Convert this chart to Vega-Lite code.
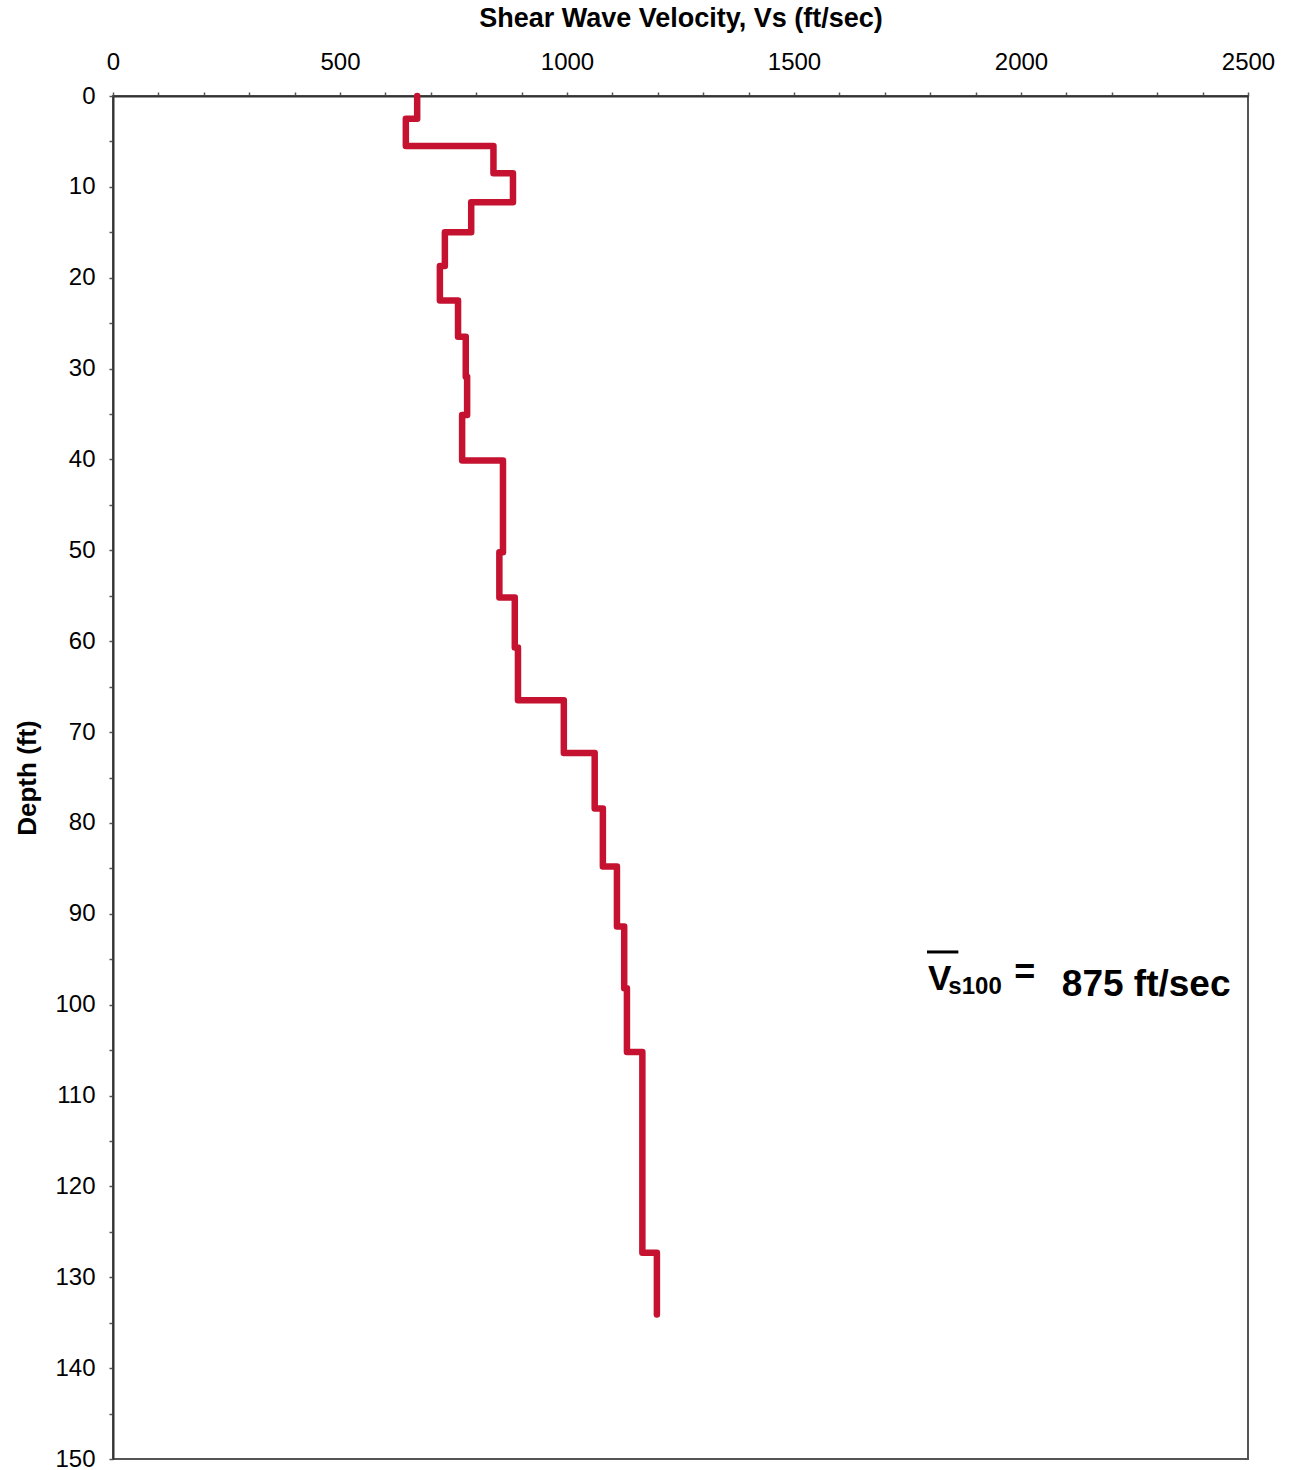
{
  "$schema": "https://vega.github.io/schema/vega-lite/v6.json",
  "width": 1135,
  "height": 1363,
  "autosize": "none",
  "padding": {"left": 113, "top": 96, "right": 43, "bottom": 11},
  "background": "white",
  "config": {
    "view": {"stroke": "#555555", "strokeWidth": 2},
    "font": "Liberation Sans",
    "axis": {"grid": false, "domainColor": "#333333", "domainWidth": 2, "tickColor": "#555555", "tickWidth": 1.5, "labelColor": "#000000", "titleColor": "#000000", "labelFont": "Liberation Sans", "titleFont": "Liberation Sans"}
  },
  "datasets": {
    "profile": [
      {"i": 1, "depth": 0, "vs": 670},
      {"i": 2, "depth": 2.5, "vs": 670},
      {"i": 3, "depth": 2.5, "vs": 645},
      {"i": 4, "depth": 5.5, "vs": 645},
      {"i": 5, "depth": 5.5, "vs": 838},
      {"i": 6, "depth": 8.5, "vs": 838},
      {"i": 7, "depth": 8.5, "vs": 881},
      {"i": 8, "depth": 11.7, "vs": 881},
      {"i": 9, "depth": 11.7, "vs": 789},
      {"i": 10, "depth": 15, "vs": 789},
      {"i": 11, "depth": 15, "vs": 731},
      {"i": 12, "depth": 18.7, "vs": 731},
      {"i": 13, "depth": 18.7, "vs": 720},
      {"i": 14, "depth": 22.5, "vs": 720},
      {"i": 15, "depth": 22.5, "vs": 760},
      {"i": 16, "depth": 26.5, "vs": 760},
      {"i": 17, "depth": 26.5, "vs": 777},
      {"i": 18, "depth": 30.9, "vs": 777},
      {"i": 19, "depth": 30.9, "vs": 780},
      {"i": 20, "depth": 35.1, "vs": 780},
      {"i": 21, "depth": 35.1, "vs": 769},
      {"i": 22, "depth": 40.1, "vs": 769},
      {"i": 23, "depth": 40.1, "vs": 859},
      {"i": 24, "depth": 50.2, "vs": 859},
      {"i": 25, "depth": 50.2, "vs": 851},
      {"i": 26, "depth": 55.2, "vs": 851},
      {"i": 27, "depth": 55.2, "vs": 885},
      {"i": 28, "depth": 60.7, "vs": 885},
      {"i": 29, "depth": 60.7, "vs": 892},
      {"i": 30, "depth": 66.5, "vs": 892},
      {"i": 31, "depth": 66.5, "vs": 993},
      {"i": 32, "depth": 72.3, "vs": 993},
      {"i": 33, "depth": 72.3, "vs": 1061},
      {"i": 34, "depth": 78.4, "vs": 1061},
      {"i": 35, "depth": 78.4, "vs": 1079},
      {"i": 36, "depth": 84.8, "vs": 1079},
      {"i": 37, "depth": 84.8, "vs": 1110},
      {"i": 38, "depth": 91.4, "vs": 1110},
      {"i": 39, "depth": 91.4, "vs": 1126},
      {"i": 40, "depth": 98.2, "vs": 1126},
      {"i": 41, "depth": 98.2, "vs": 1132},
      {"i": 42, "depth": 105.2, "vs": 1132},
      {"i": 43, "depth": 105.2, "vs": 1166},
      {"i": 44, "depth": 127.3, "vs": 1166},
      {"i": 45, "depth": 127.3, "vs": 1198},
      {"i": 46, "depth": 134.1, "vs": 1198}
    ],
    "label": [
      {"part": "V", "vs": 1795, "depth": 98.4},
      {"part": "s100", "vs": 1840, "depth": 98.8},
      {"part": "=", "vs": 1985, "depth": 97.7},
      {"part": "875 ft/sec", "vs": 2090, "depth": 99.0}
    ],
    "bar": [
      {"vs": 1793, "vs2": 1862, "depth": 94.2}
    ]
  },
  "layer": [
    {
      "data": {"name": "profile"},
      "mark": {"type": "line", "color": "#c41230", "strokeWidth": 6.5, "strokeCap": "round", "strokeJoin": "round"},
      "encoding": {
        "x": {
          "field": "vs", "type": "quantitative",
          "scale": {"domain": [0, 2500], "nice": false, "zero": false},
          "axis": {
            "orient": "top",
            "title": "Shear Wave Velocity, Vs (ft/sec)",
            "titleFontSize": 27, "titleFontWeight": "bold", "titlePadding": 18,
            "labelFontSize": 24, "labelFontWeight": "normal", "labelPadding": 18,
            "format": "d",
            "values": [0,100,200,300,400,500,600,700,800,900,1000,1100,1200,1300,1400,1500,1600,1700,1800,1900,2000,2100,2200,2300,2400,2500],
            "labelExpr": "datum.value % 500 == 0 ? datum.label : ''",
            "tickSize": 4, "labelFlush": false, "labelOverlap": false
          }
        },
        "y": {
          "field": "depth", "type": "quantitative",
          "scale": {"domain": [0, 150], "nice": false, "zero": false, "reverse": true},
          "axis": {
            "title": "Depth (ft)",
            "titleFontSize": 26, "titleFontWeight": "bold", "titlePadding": 14,
            "labelFontSize": 24, "labelFontWeight": "normal", "labelPadding": 14,
            "format": "d",
            "values": [0,5,10,15,20,25,30,35,40,45,50,55,60,65,70,75,80,85,90,95,100,105,110,115,120,125,130,135,140,145,150],
            "labelExpr": "datum.value % 10 == 0 ? datum.label : ''",
            "tickSize": 4, "labelFlush": false, "labelOverlap": false
          }
        },
        "order": {"field": "i", "type": "quantitative"}
      }
    },
    {
      "data": {"name": "bar"},
      "mark": {"type": "rule", "color": "#000000", "strokeWidth": 3},
      "encoding": {
        "x": {"field": "vs", "type": "quantitative"},
        "x2": {"field": "vs2"},
        "y": {"field": "depth", "type": "quantitative"}
      }
    },
    {
      "data": {"name": "label"},
      "transform": [{"filter": "datum.part == 'V'"}],
      "mark": {"type": "text", "align": "left", "baseline": "alphabetic", "fontSize": 35, "fontWeight": "bold", "font": "Liberation Sans", "color": "#000000"},
      "encoding": {
        "x": {"field": "vs", "type": "quantitative"},
        "y": {"field": "depth", "type": "quantitative"},
        "text": {"field": "part"}
      }
    },
    {
      "data": {"name": "label"},
      "transform": [{"filter": "datum.part == 's100'"}],
      "mark": {"type": "text", "align": "left", "baseline": "alphabetic", "fontSize": 24, "fontWeight": "bold", "font": "Liberation Sans", "color": "#000000"},
      "encoding": {
        "x": {"field": "vs", "type": "quantitative"},
        "y": {"field": "depth", "type": "quantitative"},
        "text": {"field": "part"}
      }
    },
    {
      "data": {"name": "label"},
      "transform": [{"filter": "datum.part == '='"}],
      "mark": {"type": "text", "align": "left", "baseline": "alphabetic", "fontSize": 36, "fontWeight": "bold", "font": "Liberation Sans", "color": "#000000"},
      "encoding": {
        "x": {"field": "vs", "type": "quantitative"},
        "y": {"field": "depth", "type": "quantitative"},
        "text": {"field": "part"}
      }
    },
    {
      "data": {"name": "label"},
      "transform": [{"filter": "datum.part == '875 ft/sec'"}],
      "mark": {"type": "text", "align": "left", "baseline": "alphabetic", "fontSize": 37, "fontWeight": "bold", "font": "Liberation Sans Narrow, Liberation Sans", "color": "#000000"},
      "encoding": {
        "x": {"field": "vs", "type": "quantitative"},
        "y": {"field": "depth", "type": "quantitative"},
        "text": {"field": "part"}
      }
    }
  ]
}
